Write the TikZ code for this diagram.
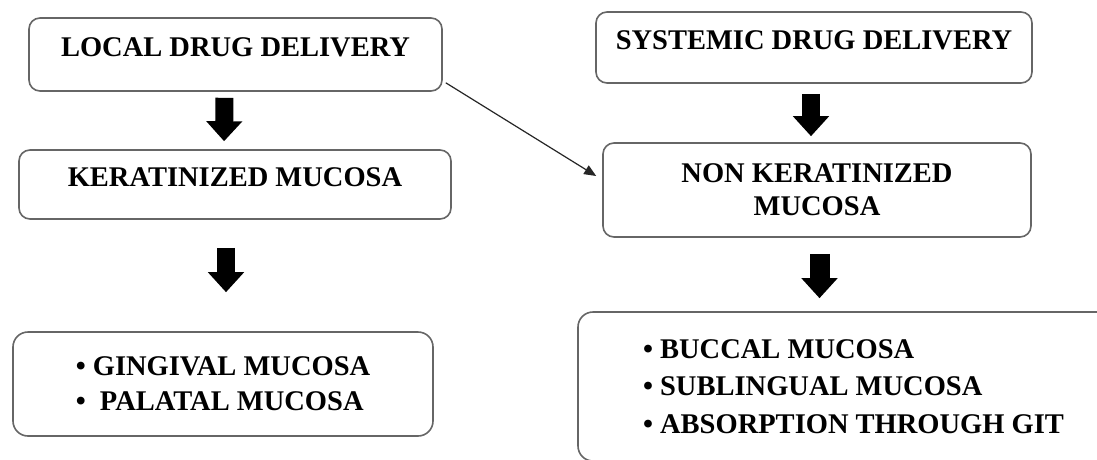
\documentclass[tikz,border=0pt]{standalone}
\usepackage{fontspec}
\setmainfont{Liberation Serif}
\usepackage{tikz}
\usetikzlibrary{arrows.meta,calc}

\begin{document}
\begin{tikzpicture}[
    x=1pt, y=-1pt,
    box/.style={rectangle, draw=black!60, line width=1.6pt, rounded corners=11pt, inner sep=0pt, align=center, font=\bfseries\fontsize{28.5}{33}\selectfont},
    onerow/.style={box, text height=20pt, text depth=16pt},
    listbox/.style={box, align=left, rounded corners=15pt},
    bigarrow/.style={-{Triangle[length=20pt,width=35pt]}, line width=18pt},
    arrow/.style={-{Triangle[length=12pt,width=10pt]}, line width=1.2pt, black!85}
]
\fill[white] (0,0) rectangle (1097,459);
\useasboundingbox (0,0) rectangle (1097,459);

% local side
\node[onerow, minimum width=413pt, minimum height=73pt] (local) at (235.5,54.5) {LOCAL DRUG DELIVERY};
\node[onerow, minimum width=432pt, minimum height=69pt] (kera) at (235,184.5) {KERATINIZED MUCOSA};
\node[listbox, minimum width=420pt, minimum height=104pt, font=\bfseries\fontsize{28.5}{35}\selectfont] (gingival) at (223,384)
    {\textbullet\ GINGIVAL MUCOSA\\\textbullet\ \ PALATAL MUCOSA};

% systemic side
\node[onerow, minimum width=436pt, minimum height=71pt] (systemic) at (814,47.5) {SYSTEMIC DRUG DELIVERY};
\node[box, minimum width=428pt, minimum height=94pt] (nonkera) at (817,190) {NON KERATINIZED\\MUCOSA};
\node[listbox, minimum width=551pt, minimum height=149pt, font=\bfseries\fontsize{28.5}{37.5}\selectfont] (buccal) at (853.5,386.5)
    {\textbullet\ BUCCAL MUCOSA\\\textbullet\ SUBLINGUAL MUCOSA\\\textbullet\ ABSORPTION THROUGH GIT};

\draw[bigarrow, shorten <=6pt, shorten >=8pt] ([xshift=-11pt]local.south) -- ([xshift=-11pt]kera.north);
\draw[bigarrow, shorten <=28pt, shorten >=39pt] ([xshift=-9pt]kera.south) -- ([xshift=3pt]gingival.north);
\draw[bigarrow, shorten <=10pt, shorten >=6pt] ([xshift=-3pt]systemic.south) -- ([xshift=-6pt]nonkera.north);
\draw[bigarrow, line width=20pt, shorten <=16pt, shorten >=13pt] ([xshift=2.5pt]nonkera.south) -- ([xshift=-34pt]buccal.north);
\draw[arrow] ($(local.south east)+(3,-9)$) -- ($(nonkera.west)+(-6,-14)$);
\end{tikzpicture}
\end{document}
